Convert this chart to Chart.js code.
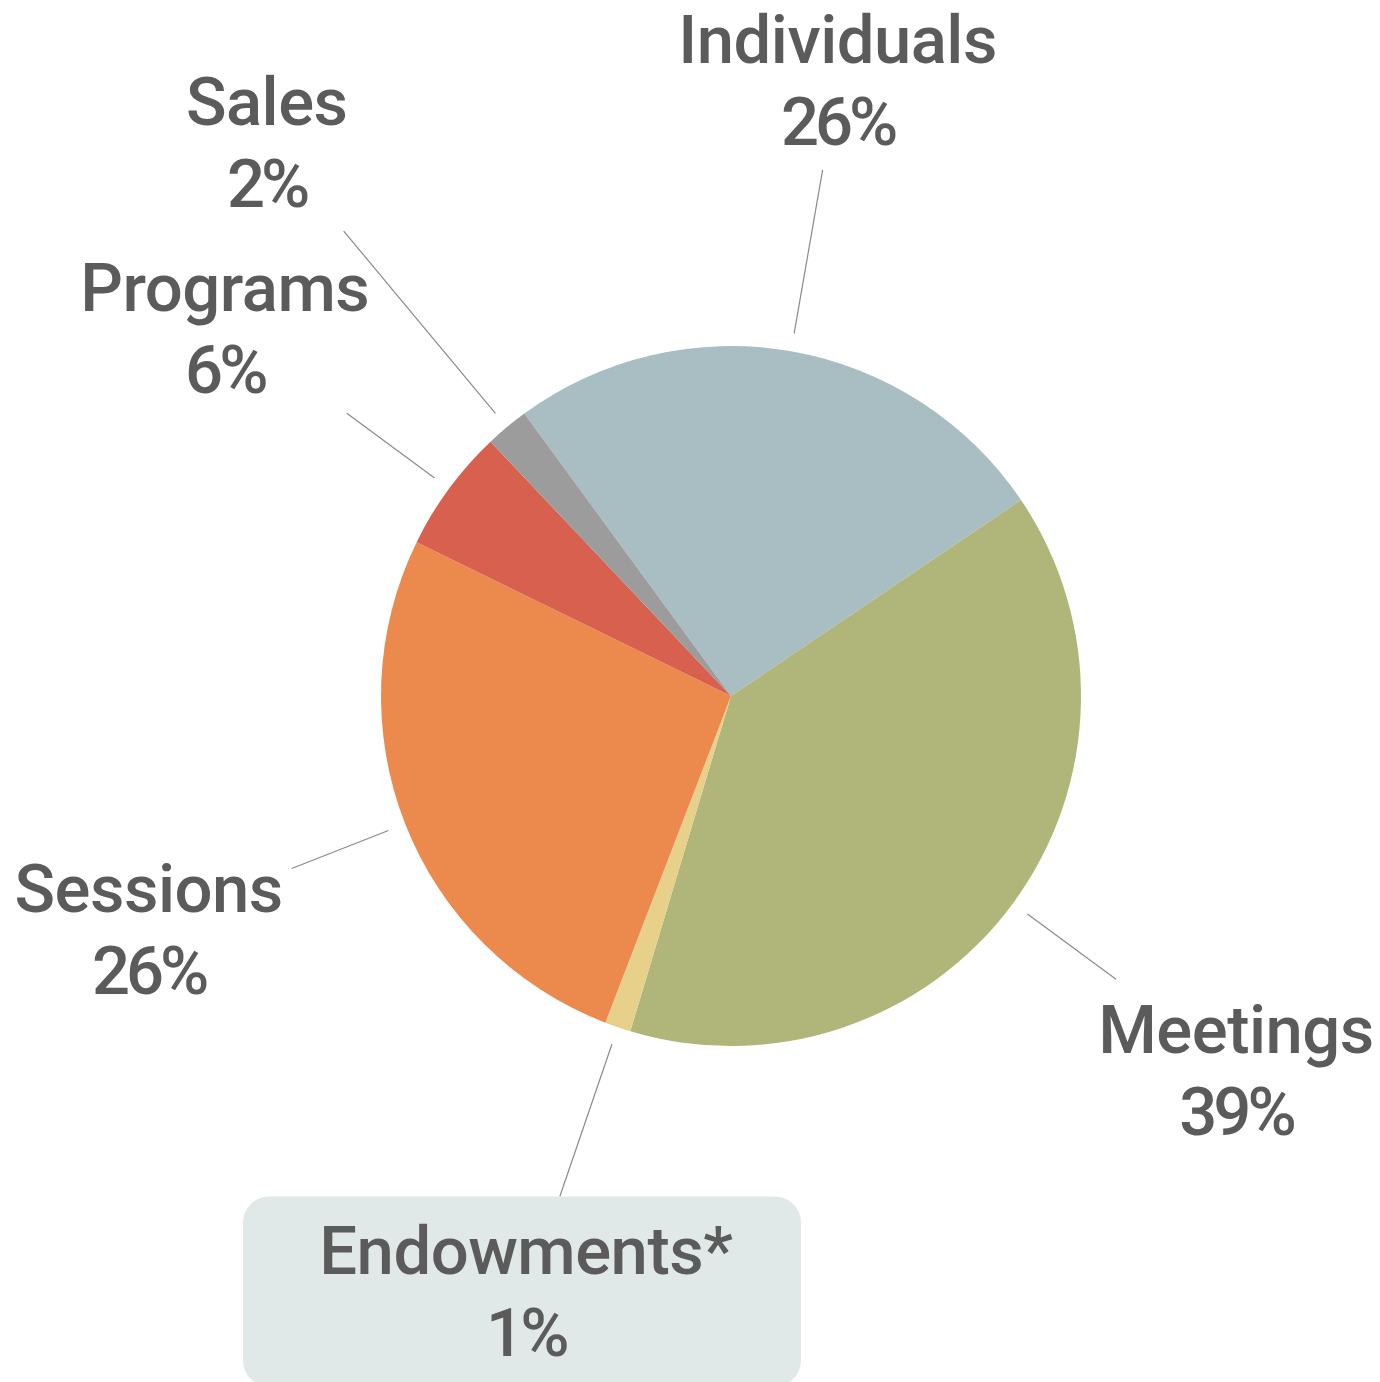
<!DOCTYPE html>
<html>
<head>
<meta charset="utf-8">
<script src="https://cdn.jsdelivr.net/npm/chart.js@4.4.1/dist/chart.umd.min.js"></script>
<style>
  html, body { margin: 0; padding: 0; background: #fff; }
  #wrap { width: 1380px; height: 1382px; position: relative; }
</style>
</head>
<body>
<div id="wrap"><canvas id="pie-chart"></canvas></div>
<script>
// slice data, clockwise from the Individuals slice
var categories = ['Individuals', 'Meetings', 'Endowments*', 'Sessions', 'Programs', 'Sales'];
var shares = [25.6, 39.1, 1.2, 26.4, 5.7, 2.0];
var shareLabels = ['26%', '39%', '1%', '26%', '6%', '2%'];
var sliceColors = ['#a8bec2', '#b0b67a', '#e6d08a', '#ec8a4e', '#d8604e', '#9c9c9c'];

// leader line outer radius and label offset from line end, per slice
var leaderLen = [534, 478, 529, 472, 477, 605];
var labelOffset = [[15, -90], [120, 91], [-34, 94], [-143, 60], [-122, -85], [-77, -89]];

var calloutPlugin = {
  id: 'callouts',
  afterDatasetsDraw: function(chart) {
    var ctx = chart.ctx;
    var meta = chart.getDatasetMeta(0);
    ctx.save();
    meta.data.forEach(function(arc, i) {
      var mid = (arc.startAngle + arc.endAngle) / 2;
      var r0 = arc.outerRadius + 18;
      var r1 = leaderLen[i];
      var x0 = arc.x + Math.cos(mid) * r0, y0 = arc.y + Math.sin(mid) * r0;
      var x1 = arc.x + Math.cos(mid) * r1, y1 = arc.y + Math.sin(mid) * r1;
      ctx.strokeStyle = '#8a8a8a';
      ctx.lineWidth = 1.2;
      ctx.beginPath();
      ctx.moveTo(x0, y0);
      ctx.lineTo(x1, y1);
      ctx.stroke();

      var lx = x1 + labelOffset[i][0];
      var ly = y1 + labelOffset[i][1];
      if (i === 2) {
        // the boxed endowments label
        ctx.fillStyle = '#e1e9e8';
        ctx.beginPath();
        ctx.roundRect(243, y1, 558, 190, 26);
        ctx.fill();
      }
      ctx.fillStyle = '#5b5b5b';
      ctx.font = '500 67px Roboto, "DejaVu Sans Condensed", sans-serif';
      ctx.textAlign = 'center';
      ctx.textBaseline = 'alphabetic';
      ctx.letterSpacing = '-0.5px';
      ctx.fillText(categories[i], lx, ly - 17);
      ctx.letterSpacing = '-4px';
      ctx.fillText(shareLabels[i], lx, ly + 65);
    });
    ctx.restore();
  }
};

new Chart(document.getElementById('pie-chart'), {
  type: 'pie',
  data: {
    labels: categories,
    datasets: [{
      data: shares,
      backgroundColor: sliceColors,
      borderWidth: 0
    }]
  },
  options: {
    responsive: true,
    maintainAspectRatio: false,
    animation: false,
    rotation: -36.2,
    layout: {
      padding: { left: 381, right: 299, top: 346, bottom: 336 }
    },
    plugins: {
      legend: { display: false },
      tooltip: { enabled: false }
    }
  },
  plugins: [calloutPlugin]
});
</script>
</body>
</html>
